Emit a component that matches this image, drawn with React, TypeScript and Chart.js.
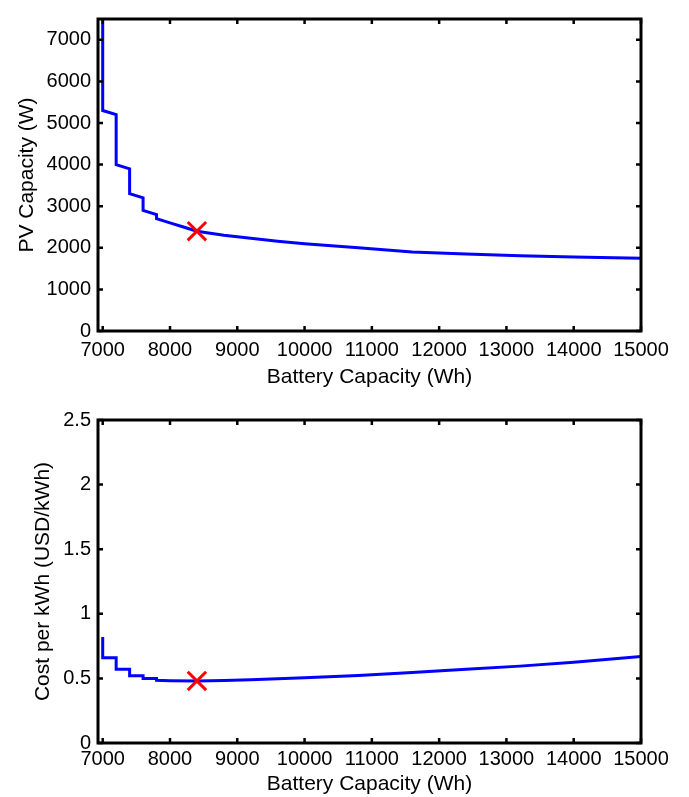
import React, { useEffect, useRef } from "react";
import { Chart, registerables } from "chart.js";

Chart.register(...registerables);

// ---------- data ----------
const xTicks = [7000, 8000, 9000, 10000, 11000, 12000, 13000, 14000, 15000];
const pvTicks = [0, 1000, 2000, 3000, 4000, 5000, 6000, 7000];
const costTicks = [0, 0.5, 1, 1.5, 2, 2.5];

const batteryTop = [7000, 7000, 7200, 7200, 7400, 7400, 7600, 7600, 7800, 7800, 8000, 8200, 8400, 8600, 8800, 9200, 9600, 10000, 10800, 11600, 12400, 13200, 14000, 15000];
const pvCapacity = [7500, 5300, 5200, 4000, 3900, 3300, 3200, 2900, 2800, 2700, 2600, 2500, 2400, 2350, 2300, 2230, 2160, 2100, 2000, 1900, 1850, 1810, 1780, 1750];

const batteryBottom = [7000, 7000, 7200, 7200, 7400, 7400, 7600, 7600, 7800, 7800, 8000, 8400, 8800, 9200, 10000, 10800, 11600, 12400, 13200, 14000, 15000];
const costPerKwh = [0.82, 0.66, 0.66, 0.57, 0.57, 0.52, 0.52, 0.5, 0.5, 0.485, 0.482, 0.48, 0.484, 0.49, 0.505, 0.522, 0.545, 0.57, 0.595, 0.625, 0.67];

const optimalBattery = [8400];
const optimalPv = [2400];
const optimalCost = [0.48];

const FONT = "'Liberation Sans', Arial, Helvetica, sans-serif";

const boxPlugin = {
  id: "matlabBox",
  afterDatasetsDraw(chart: any) {
    const { ctx, chartArea: a, scales } = chart;
    const xs = scales.x;
    const ys = scales.y;
    ctx.save();
    ctx.strokeStyle = "#000";
    ctx.lineWidth = 2.5;
    ctx.lineCap = "butt";
    const tl = 5;
    ctx.beginPath();
    xs.ticks.forEach((t: any) => {
      const px = xs.getPixelForValue(t.value);
      ctx.moveTo(px, a.bottom);
      ctx.lineTo(px, a.bottom - tl);
      ctx.moveTo(px, a.top);
      ctx.lineTo(px, a.top + tl);
    });
    ys.ticks.forEach((t: any) => {
      const py = ys.getPixelForValue(t.value);
      ctx.moveTo(a.left, py);
      ctx.lineTo(a.left + tl, py);
      ctx.moveTo(a.right, py);
      ctx.lineTo(a.right - tl, py);
    });
    ctx.stroke();
    ctx.lineWidth = 3;
    ctx.strokeRect(a.left, a.top, a.right - a.left, a.bottom - a.top);
    ctx.restore();
  },
};

type PanelProps = {
  width: number;
  height: number;
  padTop: number;
  xAxisHeight: number;
  xTickPad: number;
  xs: number[];
  ys: number[];
  mx: number[];
  my: number[];
  yMax: number;
  yTicks: number[];
  yTitle: string;
  yTitlePad: number;
  xTitlePadBottom: number;
};

function Panel(p: PanelProps) {
  const ref = useRef<HTMLCanvasElement | null>(null);
  useEffect(() => {
    if (!ref.current) return;
    const chart = new Chart(ref.current, {
      type: "scatter",
      data: {
        datasets: [
          {
            label: "optimum",
            data: p.mx.map((x, i) => ({ x, y: p.my[i] })),
            showLine: false,
            pointStyle: "crossRot",
            pointRadius: 13,
            pointBorderWidth: 3,
            borderColor: "#ff0000",
            backgroundColor: "#ff0000",
          },
          {
            label: "curve",
            data: p.xs.map((x, i) => ({ x, y: p.ys[i] })),
            showLine: true,
            borderColor: "#0000ff",
            borderWidth: 3,
            pointRadius: 0,
            tension: 0,
            fill: false,
          },
        ],
      },
      options: {
        animation: false,
        responsive: false,
        devicePixelRatio: 1,
        layout: { padding: { top: p.padTop, right: 48, left: 0, bottom: 0 } },
        plugins: { legend: { display: false }, tooltip: { enabled: false } },
        scales: {
          x: {
            type: "linear",
            min: 6930,
            max: 15000,
            afterBuildTicks: (s: any) => {
              s.ticks = xTicks.map((v) => ({ value: v }));
            },
            afterFit: (s: any) => {
              s.height = p.xAxisHeight;
            },
            grid: { display: false, drawTicks: false },
            border: { display: false },
            ticks: {
              color: "#000",
              font: { family: FONT, size: 20 },
              padding: p.xTickPad,
              maxRotation: 0,
              autoSkip: false,
              callback: (v: any) => String(v),
            },
            title: {
              display: true,
              text: "Battery Capacity (Wh)",
              color: "#000",
              font: { family: FONT, size: 21 },
              padding: { top: 0, bottom: p.xTitlePadBottom },
            },
          },
          y: {
            type: "linear",
            min: 0,
            max: p.yMax,
            afterBuildTicks: (s: any) => {
              s.ticks = p.yTicks.map((v) => ({ value: v }));
            },
            afterFit: (s: any) => {
              s.width = 98;
            },
            grid: { display: false, drawTicks: false },
            border: { display: false },
            ticks: {
              color: "#000",
              font: { family: FONT, size: 20 },
              padding: 7,
              autoSkip: false,
              callback: (v: any) => String(v),
            },
            title: {
              display: true,
              text: p.yTitle,
              color: "#000",
              font: { family: FONT, size: 21 },
              padding: { top: p.yTitlePad, bottom: 0 },
            },
          },
        },
      },
      plugins: [boxPlugin],
    } as any);
    return () => chart.destroy();
  }, []);
  return <canvas ref={ref} width={p.width} height={p.height} style={{ display: "block", width: p.width, height: p.height }} />;
}

export default function App() {
  return (
    <div style={{ position: "fixed", left: 0, top: 0, width: 689, height: 797, background: "#fff", overflow: "hidden" }}>
      <Panel
        width={689}
        height={400}
        padTop={7}
        xAxisHeight={69}
        xTickPad={7}
        xs={batteryTop}
        ys={pvCapacity}
        mx={optimalBattery}
        my={optimalPv}
        yMax={7500}
        yTicks={pvTicks}
        yTitle="PV Capacity (W)"
        yTitlePad={15}
        xTitlePadBottom={10}
      />
      <Panel
        width={689}
        height={397}
        padTop={20}
        xAxisHeight={54}
        xTickPad={4}
        xs={batteryBottom}
        ys={costPerKwh}
        mx={optimalBattery}
        my={optimalCost}
        yMax={2.5}
        yTicks={costTicks}
        yTitle="Cost per kWh (USD/kWh)"
        yTitlePad={31}
        xTitlePadBottom={0}
      />
    </div>
  );
}
